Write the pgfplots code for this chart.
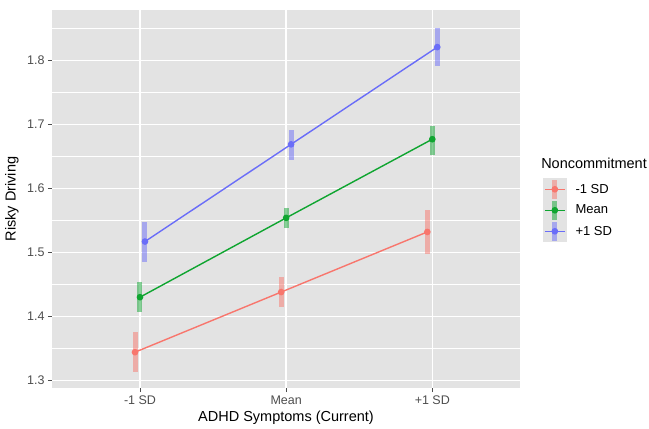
\documentclass[border=0pt]{standalone}
\usepackage{fontspec}
\setmainfont{Liberation Sans}
\usepackage{pgfplots}
\pgfplotsset{compat=1.18}
\definecolor{panelbg}{HTML}{E3E3E3}
\definecolor{cred}{HTML}{F8766D}
\definecolor{cgreen}{HTML}{0FA530}
\definecolor{cblue}{HTML}{6A6DF8}
\definecolor{tickgrey}{HTML}{4D4D4D}

\begin{document}
\begin{tikzpicture}
\begin{axis}[
  scale only axis, width=468pt, height=378pt,
  xmin=-0.602, xmax=2.6, ymin=1.288, ymax=1.879,
  xtick={0,1,2}, xticklabels={-1 SD, Mean, +1 SD},
  ytick={1.3,1.4,1.5,1.6,1.7,1.8},
  minor ytick={1.35,1.45,1.55,1.65,1.75,1.85},
  xmajorgrids, ymajorgrids, yminorgrids,
  major grid style={white, line width=1.4pt},
  minor grid style={white, line width=0.7pt},
  axis background/.style={fill=panelbg},
  axis line style={draw=none},
  tick align=outside, xtick pos=left, ytick pos=left,
  major tick length=4pt, minor tick length=0pt,
  tick style={tickgrey, line width=0.8pt},
  ticklabel style={font=\fontsize{12.5}{14}\selectfont, text=tickgrey},
  yticklabel style={/pgf/number format/.cd, fixed, fixed zerofill, precision=1, assume math mode=true},
  xlabel={ADHD Symptoms (Current)}, ylabel={Risky Driving},
  every axis x label/.style={at={(axis description cs:0.5,-0.0794)}, anchor=center,
    font=\fontsize{14.5}{16}\selectfont},
  every axis y label/.style={at={(axis description cs:-0.0855,0.5)}, anchor=center, rotate=90,
    font=\fontsize{14.5}{16}\selectfont},
  clip=false,
  legend style={at={(axis description cs:1.049,0.558)}, anchor=north west, draw=none, fill=none,
    font=\fontsize{13}{15}\selectfont, row sep=-3pt, inner sep=0pt,
    nodes={inner sep=0pt},
    /tikz/every odd column/.append style={column sep=9pt}},
  legend cell align=left,
  legend image code/.code={
    \fill[panelbg] (0pt,-10.5pt) rectangle (22pt,10.5pt);
    \draw[line width=5pt, opacity=0.5] (11pt,-9.5pt) -- (11pt,9.5pt);
    \draw[line width=1.4pt] (1pt,0pt) -- (21pt,0pt);
    \fill (11pt,0pt) circle (2.6pt);
  },
]
% error bars
\addplot[cred, only marks, mark=none, forget plot,
  error bars/.cd, y dir=both, y explicit, error mark=none,
  error bar style={line width=5pt, opacity=0.5}]
  coordinates {(-0.034,1.344) += (0,0.031) -= (0,0.031)
               (0.966,1.438) += (0,0.0235) -= (0,0.0235)
               (1.966,1.532) += (0,0.034) -= (0,0.0345)};
\addplot[cgreen, only marks, mark=none, forget plot,
  error bars/.cd, y dir=both, y explicit, error mark=none,
  error bar style={line width=5pt, opacity=0.5}]
  coordinates {(0,1.430) += (0,0.023) -= (0,0.023)
               (1,1.554) += (0,0.015) -= (0,0.016)
               (2,1.677) += (0,0.021) -= (0,0.024)};
\addplot[cblue, only marks, mark=none, forget plot,
  error bars/.cd, y dir=both, y explicit, error mark=none,
  error bar style={line width=5pt, opacity=0.5}]
  coordinates {(0.034,1.517) += (0,0.031) -= (0,0.032)
               (1.034,1.669) += (0,0.023) -= (0,0.024)
               (2.034,1.821) += (0,0.030) -= (0,0.030)};
% lines with points
\addplot[cred, line width=1.4pt, mark=*, mark size=2.6pt]
  coordinates {(-0.034,1.344) (0.966,1.438) (1.966,1.532)};
\addlegendentry{-1 SD}
\addplot[cgreen, line width=1.4pt, mark=*, mark size=2.6pt]
  coordinates {(0,1.430) (1,1.554) (2,1.677)};
\addlegendentry{Mean}
\addplot[cblue, line width=1.4pt, mark=*, mark size=2.6pt]
  coordinates {(0.034,1.517) (1.034,1.669) (2.034,1.821)};
\addlegendentry{+1 SD}
\node[anchor=west, font=\fontsize{14.5}{16}\selectfont, inner sep=0pt] at (axis description cs:1.045,0.595) {Noncommitment};
\end{axis}
\pgfresetboundingbox
\path[use as bounding box] (-52pt,-41pt) rectangle (597pt,388pt);
\end{tikzpicture}
\end{document}
